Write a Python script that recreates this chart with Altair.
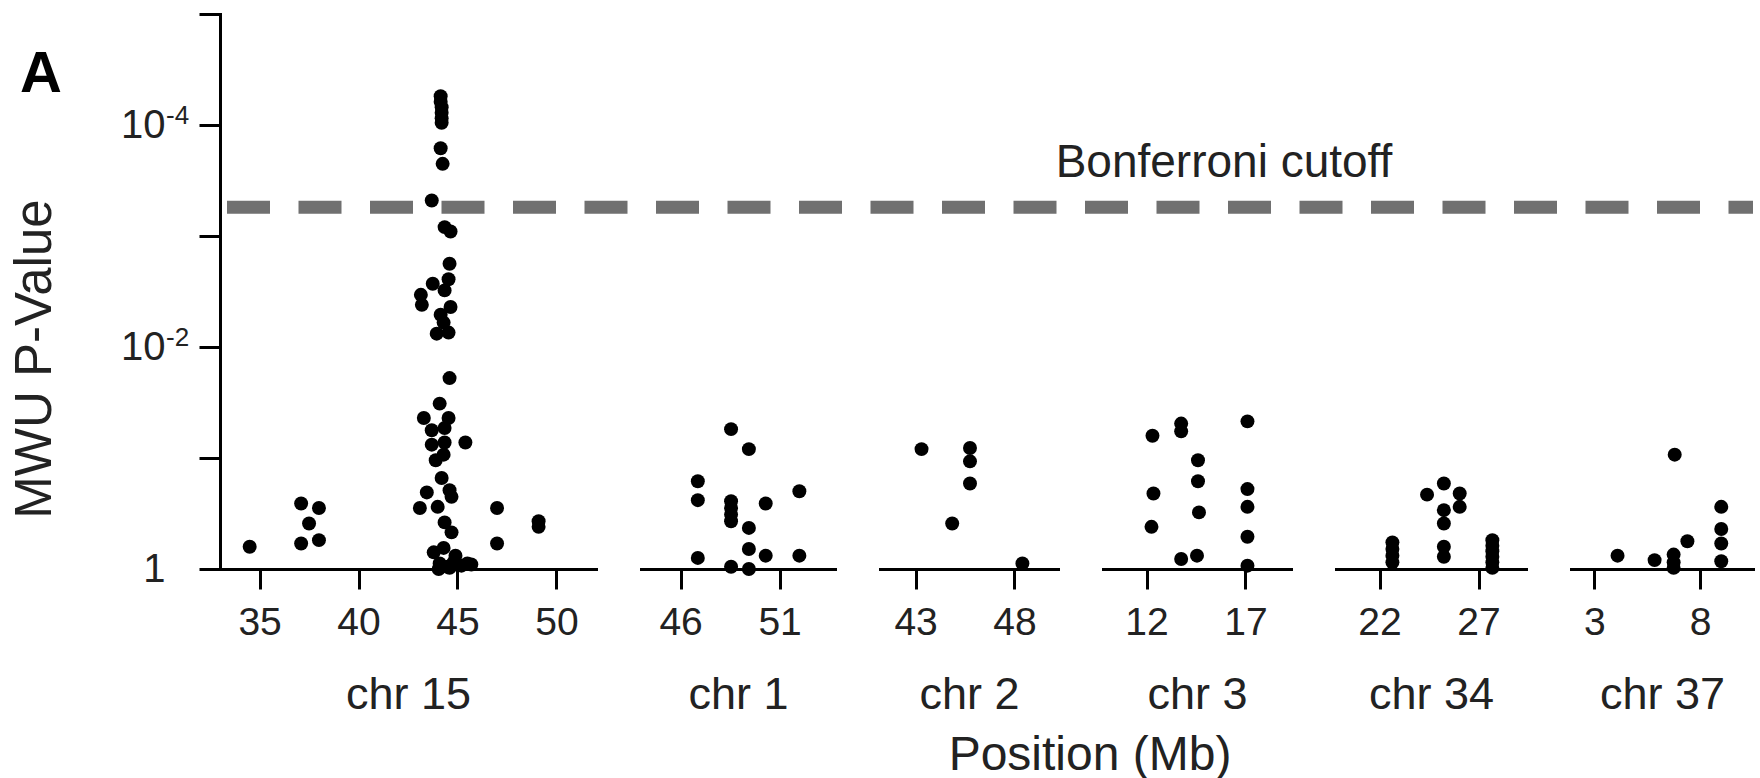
import altair as alt
import pandas as pd

# ---------------- data ----------------
# y values are -log10(MWU p-value); x values are positions in Mb
chr15_pos = [34.5, 37.1, 38.0, 37.5, 37.1, 38.0, 47.0, 47.0, 49.1, 49.1,
             44.15, 44.15, 44.2, 44.2, 44.2, 44.2, 44.15, 44.25, 43.7, 44.35,
             44.65, 44.6, 44.55, 43.75, 44.35, 43.15, 43.2, 44.65, 44.15, 44.3,
             43.95, 44.55, 44.6, 44.1, 43.3, 44.55, 43.7, 44.35, 45.4, 43.7,
             44.35, 43.9, 44.3, 44.2, 43.45, 44.6, 43.1, 44.0, 44.7, 44.35,
             44.7, 43.8, 44.3, 44.1, 44.8, 45.5, 45.7, 44.05, 44.6, 44.9,
             45.2, 44.5]
chr15_nlp = [0.20, 0.59, 0.55, 0.41, 0.23, 0.26, 0.55, 0.23, 0.43, 0.38,
             4.26, 4.21, 4.16, 4.11, 4.06, 4.02, 3.79, 3.65, 3.32, 3.08,
             3.04, 2.75, 2.61, 2.57, 2.51, 2.47, 2.38, 2.36, 2.29, 2.22,
             2.12, 2.13, 1.72, 1.49, 1.36, 1.36, 1.25, 1.27, 1.14, 1.12,
             1.14, 0.98, 1.03, 0.82, 0.69, 0.71, 0.55, 0.56, 0.65, 0.42,
             0.33, 0.15, 0.19, 0.05, 0.06, 0.05, 0.04, 0.00, 0.01, 0.12,
             0.03, 0.02]

chr1_pos = [48.55, 49.45, 46.87, 46.87, 46.87, 48.55, 48.55, 48.55, 48.55,
            48.55, 49.45, 49.45, 49.45, 50.3, 50.3, 52.0, 52.0]
chr1_nlp = [1.26, 1.08, 0.79, 0.62, 0.10, 0.61, 0.55, 0.49, 0.43,
            0.02, 0.37, 0.18, 0.00, 0.59, 0.12, 0.70, 0.12]

chr2_pos = [43.3, 45.75, 45.75, 45.75, 44.85, 48.4]
chr2_nlp = [1.08, 1.09, 0.97, 0.77, 0.41, 0.05]

chr3_pos = [12.3, 12.35, 12.25, 13.75, 13.75, 13.75, 14.6, 14.6, 14.65,
            14.55, 17.1, 17.1, 17.1, 17.1, 17.1]
chr3_nlp = [1.20, 0.68, 0.38, 1.31, 1.24, 0.09, 0.98, 0.79, 0.51,
            0.12, 1.33, 0.72, 0.56, 0.29, 0.03]

chr34_pos = [22.65, 22.65, 22.65, 22.65, 24.4, 25.25, 26.05, 26.05, 25.25,
             25.25, 25.25, 25.25, 27.7, 27.7, 27.7, 27.7, 27.7, 27.7]
chr34_nlp = [0.24, 0.18, 0.12, 0.06, 0.67, 0.77, 0.68, 0.56, 0.53,
             0.41, 0.20, 0.11, 0.26, 0.21, 0.16, 0.11, 0.06, 0.01]

chr37_pos = [4.1, 5.85, 6.75, 6.75, 6.75, 6.8, 7.4, 9.0, 9.0, 9.0, 9.0]
chr37_nlp = [0.12, 0.08, 0.13, 0.06, 0.01, 1.03, 0.25, 0.56, 0.36, 0.23, 0.07]

chrom_names = ["chr 15", "chr 1", "chr 2", "chr 3", "chr 34", "chr 37"]
chrom_domains = [[33, 52], [44, 53.8], [41.2, 50.2], [9.8, 19.3], [19.8, 29.4], [1.9, 10.5]]
chrom_ticks = [[35, 40, 45, 50], [46, 51], [43, 48], [12, 17], [22, 27], [3, 8]]
chrom_pos = [chr15_pos, chr1_pos, chr2_pos, chr3_pos, chr34_pos, chr37_pos]
chrom_nlp = [chr15_nlp, chr1_nlp, chr2_nlp, chr3_nlp, chr34_nlp, chr37_nlp]

y_ticks = [0, 1, 2, 3, 4, 5]
y_super = ["-2", "-4"]
y_super_at = [2, 4]
bonferroni_nlp = 3.26
bonferroni_label = "Bonferroni cutoff"
y_title = "MWU P-Value"
x_title = "Position (Mb)"
panel_letter = "A"

# ---------------- styling / layout ----------------
FONT = "Liberation Sans"
TXT = "#222222"
panel_widths = [376, 194, 178, 188, 190, 182]
PLOT_H = 555

y_scale = alt.Scale(domain=[0, 5], nice=False, zero=False)

panels = []
for i, name in enumerate(chrom_names):
    df = pd.DataFrame({"pos": chrom_pos[i], "nlp": chrom_nlp[i]})
    x_enc = alt.X(
        "pos:Q",
        scale=alt.Scale(domain=chrom_domains[i], nice=False, zero=False),
        axis=alt.Axis(values=chrom_ticks[i], title=name, format="d",
                      grid=False, labelFlush=False),
    )
    if i == 0:
        y_axis = alt.Axis(values=y_ticks, title=None, grid=False,
                          labelExpr="datum.value == 0 ? '1' : (datum.value == 2 || datum.value == 4 ? '10' : '')",
                          tickSize=21, labelPadding=34, labelFontSize=40)
    else:
        y_axis = None
    y_enc = alt.Y("nlp:Q", scale=y_scale, axis=y_axis)

    pts = alt.Chart(df).mark_circle(size=195, color="black", opacity=1).encode(x=x_enc, y=y_enc)

    if i == 0:
        rule_df = pd.DataFrame({"nlp": [bonferroni_nlp]})
        rule = alt.Chart(rule_df).mark_rule(
            color="#707070", strokeWidth=13, strokeDash=[43, 28.5], strokeCap="butt"
        ).encode(y=alt.Y("nlp:Q", scale=y_scale), x=alt.value(7), x2=alt.value(1533))

        sup_df = pd.DataFrame({"nlp": y_super_at, "s": y_super})
        sup = alt.Chart(sup_df).mark_text(
            font=FONT, fontSize=26, color=TXT, align="left", baseline="middle", dy=-9
        ).encode(y=alt.Y("nlp:Q", scale=y_scale), x=alt.value(-54), text="s:N")

        bon = alt.Chart(pd.DataFrame({"t": [bonferroni_label]})).mark_text(
            font=FONT, fontSize=46, color=TXT, align="center", baseline="alphabetic"
        ).encode(x=alt.value(1004), y=alt.value(163), text="t:N")

        ytitle = alt.Chart(pd.DataFrame({"t": [y_title]})).mark_text(
            font=FONT, fontSize=51, color=TXT, align="center", baseline="middle", angle=270
        ).encode(x=alt.value(-184), y=alt.value(345), text="t:N")

        letter = alt.Chart(pd.DataFrame({"t": [panel_letter]})).mark_text(
            font=FONT, fontSize=58, fontWeight="bold", color="black", align="center",
            baseline="alphabetic"
        ).encode(x=alt.value(-179), y=alt.value(78), text="t:N")

        xtitle = alt.Chart(pd.DataFrame({"t": [x_title]})).mark_text(
            font=FONT, fontSize=48, color=TXT, align="center", baseline="alphabetic"
        ).encode(x=alt.value(870), y=alt.value(756), text="t:N")

        layer = alt.layer(rule, pts, sup, bon, ytitle, letter, xtitle)
    else:
        layer = pts

    panels.append(layer.properties(width=panel_widths[i], height=PLOT_H))

chart = alt.hconcat(*panels, spacing=45, bounds="flush").properties(
    padding={"left": 10, "top": 12, "right": 0, "bottom": 0}
).configure_view(stroke=None).configure_axis(
    domainColor="black", domainWidth=3, tickColor="black", tickWidth=3,
    tickSize=20, labelFont=FONT, labelFontSize=39, labelColor=TXT,
    labelPadding=14, titleFont=FONT, titleFontSize=45, titleColor=TXT,
    titleFontWeight="normal", titlePadding=30, domainCap="square"
)

chart.save("out.html", embed_options={"renderer": "svg", "actions": False})
